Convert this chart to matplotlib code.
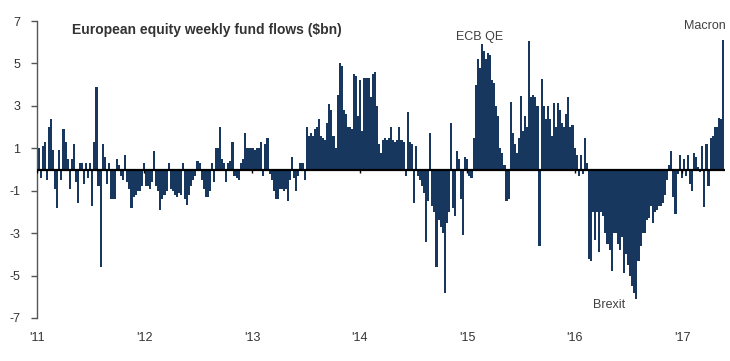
import numpy as np
import pandas as pd
import matplotlib
matplotlib.use("Agg")
import matplotlib.pyplot as plt
import matplotlib.dates as mdates

# weekly flows, $bn
flows_2011 = [1.0, -0.4, 1.1, 1.3, -0.5, 2.0, 2.4, 0.9, -0.9, -1.8, 0.9, -0.5, 1.9, 1.3, 0.5, -0.9,
              0.5, 1.2, -0.6, -1.6, 0.3, 0.3, -0.7, 0.3, -0.4, 0.3, -1.7, 1.3, 3.9, -0.8, -4.6, 1.2,
              0.6, -0.7, 0.3, -1.4, -1.4, -1.4, 0.5, 0.2, -0.3, -0.5, 0.7, -0.6, -0.9, -1.8, -1.3,
              -1.2, -1.0, -1.0, -0.8, 0.3]
flows_2012 = [-0.8, -0.8, -0.9, -0.6, 0.85, -0.8, -1.0, -1.9, -1.4, -1.2, -1.0, 0.3, -0.9, -1.0,
              -1.2, -1.3, -1.1, -1.2, 0.3, -1.4, -1.65, -1.2, -0.8, -0.5, -0.3, 0.4, 0.3, -0.5, -0.9,
              -1.3, -1.3, -1.0, 0.3, -0.6, 1.0, 1.0, 2.0, 0.5, 0.3, -0.6, 0.3, 0.4, 1.3, -0.3, -0.4,
              -0.5, 0.3, 0.5, 1.7, 1.0, 1.0, 1.0]
flows_2013 = [1.0, 0.9, 1.0, 1.0, 1.3, -0.3, 1.2, 1.5, -0.2, -0.5, -1.0, -1.4, -1.4, -0.9, -0.9,
              -1.0, -0.9, -1.5, -0.5, 0.6, -0.4, -1.0, -0.3, 0.3, 0.3, -0.5, 2.0, 1.6, 1.7, 1.6,
              1.9, 2.0, 2.4, 1.6, 1.5, 1.4, 2.2, 3.1, 2.8, 1.6, 1.0, 3.5, 5.0, 4.9, 2.8, 2.6, 2.0,
              2.0, 1.9, 4.5, 4.4, 2.5]
flows_2014 = [4.2, 1.8, 4.3, 4.3, 4.3, 3.4, 4.5, 4.6, 3.0, 1.2, 0.8, 1.4, 1.5, 1.4, 1.5, 2.0, 1.4,
              1.3, 1.4, 2.0, 1.4, 1.3, -0.3, 2.7, 1.3, 1.2, -1.6, 1.1, -0.3, -0.5, -0.8, -1.1, -3.4,
              -1.5, 1.7, -1.7, -2.0, -4.6, -2.4, -2.7, -3.0, -5.8, -2.5, -2.0, 2.2, -1.8, -2.2,
              0.85, 0.5, -1.4, -3.1, 0.6]
flows_2015 = [0.5, -0.3, -0.4, 1.5, 4.0, 5.2, 4.8, 5.9, 5.6, 5.2, 5.5, 5.4, 4.2, 4.1, 3.0, 2.5, 1.0,
              0.8, 0.2, -1.5, -1.4, 3.2, 1.7, 1.2, 0.8, 1.5, 3.45, 1.8, 2.5, 2.0, 6.05, 3.4, 3.5,
              3.4, 3.0, -3.6, 4.25, 3.0, 2.4, 3.0, 2.4, 1.6, 3.15, 2.0, 3.15, 2.8, 2.2, 2.0, 2.6,
              3.4, 2.0, 2.1]
flows_2016 = [1.0, 0.7, -0.3, 0.7, -0.2, 1.5, 0.3, -4.2, -4.3, -2.0, -3.3, -2.0, -3.9, -2.0, -2.2,
              -3.0, -3.5, -3.8, -4.8, -3.0, -3.0, -3.5, -3.8, -3.2, -4.9, -4.0, -4.5, -5.0, -5.5,
              -5.8, -6.1, -4.3, -3.6, -3.0, -3.0, -2.4, -2.3, -1.7, -2.5, -2.0, -1.9, -1.7, -1.7,
              -1.6, -1.2, -0.5, 0.2, 0.85, -1.3, -2.1, -0.2, 0.7]
flows_2017 = [-0.4, 0.5, -0.3, 0.7, -0.7, -1.0, 0.8, 0.6, 0.1, -0.1, 1.1, -1.75, 1.2, -0.8, 1.5,
              1.6, 2.0, 2.0, 2.45, 2.4, 6.1]

year_labels = ["'11", "'12", "'13", "'14", "'15", "'16", "'17"]
y_ticks = [-7, -5, -3, -1, 1, 3, 5, 7]
events = ["ECB QE", "Brexit", "Macron"]
event_week = [214, 277, 323]
event_y = [6.25, -6.4, 6.75]

flows = np.array(flows_2011 + flows_2012 + flows_2013 + flows_2014 +
                 flows_2015 + flows_2016 + flows_2017)
weeks = pd.date_range("2011-01-07", periods=len(flows), freq="7D")
years = pd.date_range("2011-01-01", periods=7, freq="YS")

navy = "#17375e"
plt.rcParams["font.family"] = ["Liberation Sans", "DejaVu Sans"]

fig = plt.figure(figsize=(7.30, 3.61), dpi=100)
ax = fig.add_axes([37 / 730, 1 - 318 / 361, 688 / 730, 297 / 361])

ax.bar(weeks, flows, width=7.2, color=navy, linewidth=0)
ax.axhline(0, color="black", lw=1.6, zorder=3)
ax.vlines(years, -0.18, 0, color="black", lw=1, zorder=3)

ax.set_xlim(pd.Timestamp("2011-01-01"), pd.Timestamp("2017-05-26"))
ax.set_ylim(-7, 7)
ax.set_yticks(y_ticks)
ax.set_yticklabels([str(v) for v in y_ticks])
ax.set_xticks(years)
ax.set_xticklabels(year_labels)

for side in ["top", "right", "bottom"]:
    ax.spines[side].set_visible(False)
ax.spines["left"].set_color("#555555")
ax.spines["left"].set_linewidth(1)
ax.tick_params(axis="y", direction="out", length=4, width=1, color="#555555",
               labelsize=9, labelcolor="#333333", pad=8)
ax.tick_params(axis="x", length=0, labelsize=9, labelcolor="#333333", pad=10)

for name, w, y in zip(events, event_week, event_y):
    ax.text(weeks[w], y, name, ha="center", va="center", fontsize=9, color="#404040")

fig.text(72 / 730, 1 - 30 / 361, "European equity weekly fund flows ($bn)",
         ha="left", va="center", fontsize=10, fontweight="bold", color="#333333")

fig.savefig("out.png", dpi=100)
